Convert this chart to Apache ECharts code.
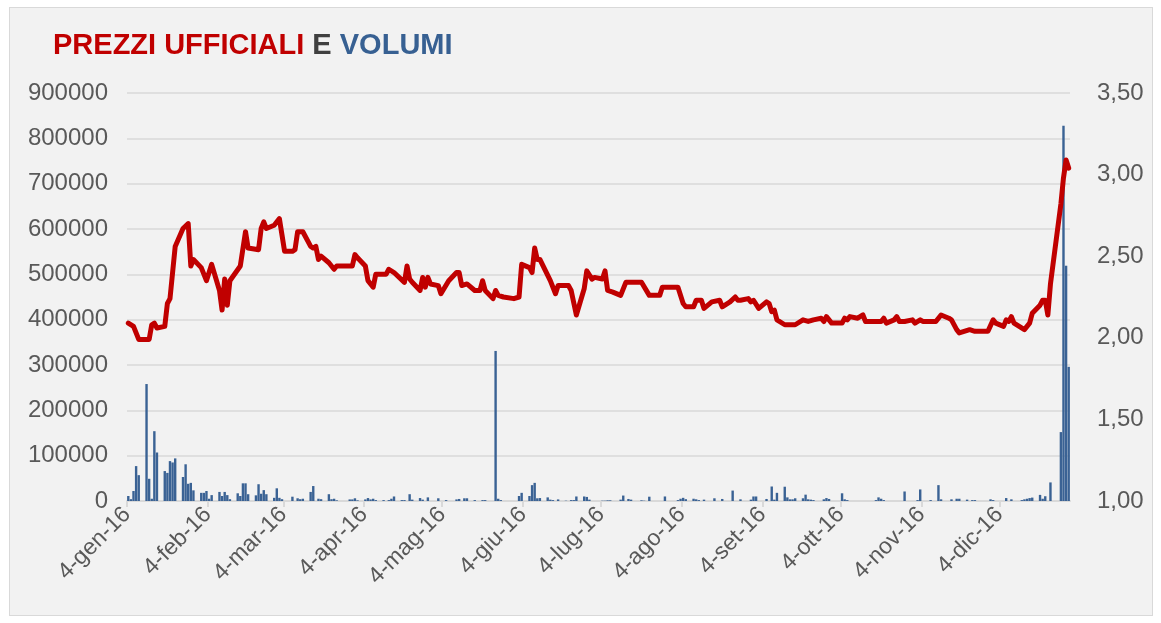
<!DOCTYPE html>
<html>
<head>
<meta charset="utf-8">
<script src="https://cdn.jsdelivr.net/npm/echarts@6.0.0/dist/echarts.min.js"></script>
<style>
  html, body { margin: 0; padding: 0; background: #ffffff; }
  #panel { position: absolute; left: 9px; top: 7px; width: 1142px; height: 607px; background: #f2f2f2; border: 1px solid #d9d9d9; }
  #chart { position: absolute; left: 0; top: 0; width: 1161px; height: 623px; }
</style>
</head>
<body>
<div id="panel"></div>
<div id="chart"></div>
<script>
// prezzi ufficiali (asse destro), date MM-GG 2016
var priceDates = [
  "01-04","01-06","01-08","01-12","01-13","01-14","01-15","01-18","01-19","01-20","01-22","01-25","01-27","01-28","01-29",
  "02-01","02-03","02-05","02-08","02-09","02-10","02-11","02-12","02-16","02-18","02-19","02-23","02-24","02-25","02-26","02-29",
  "03-02","03-03","03-04","03-07","03-08","03-09","03-11","03-14","03-15","03-16","03-17","03-18","03-21","03-23","03-24","03-30","03-31",
  "04-01","04-04","04-05","04-07","04-08","04-12","04-13","04-15","04-19","04-20","04-21","04-22","04-25","04-26","04-27","04-28","04-29",
  "05-02","05-03","05-06","05-09","05-10","05-11","05-13","05-16","05-18","05-19","05-20","05-23","05-24","05-25","05-27","05-31",
  "06-02","06-03","06-06","06-07","06-08","06-09","06-10","06-14","06-16","06-17","06-21","06-22","06-24","06-27","06-28","06-30",
  "07-01","07-04","07-05","07-06","07-08","07-11","07-13","07-19","07-22","07-26","07-27",
  "08-02","08-04","08-05","08-08","08-09","08-11","08-12","08-15","08-18","08-19","08-22","08-24","08-25","08-26","08-29","08-30","08-31",
  "09-02","09-05","09-06","09-07","09-08","09-09","09-12","09-16","09-19","09-21","09-23","09-26","09-27","09-28","09-30",
  "10-04","10-05","10-06","10-07","10-10","10-12","10-13","10-19","10-20","10-21","10-24","10-25","10-26","10-28","10-31",
  "11-01","11-03","11-04","11-09","11-11","11-14","11-15","11-17","11-18","11-22","11-24","11-29",
  "12-01","12-02","12-05","12-06","12-07","12-08","12-09","12-13","12-15","12-16","12-19","12-20","12-21","12-22","12-23","12-27","12-28","12-29","12-30"
];
var prices = [
  2.09,2.07,1.99,1.99,2.08,2.09,2.06,2.07,2.21,2.24,2.56,2.67,2.70,2.44,2.48,
  2.43,2.35,2.45,2.29,2.17,2.36,2.20,2.35,2.44,2.65,2.55,2.54,2.67,2.71,2.67,2.69,
  2.73,2.63,2.53,2.53,2.54,2.65,2.65,2.56,2.55,2.56,2.48,2.50,2.46,2.42,2.44,2.44,2.51,
  2.49,2.44,2.35,2.31,2.39,2.39,2.42,2.40,2.34,2.44,2.36,2.34,2.29,2.37,2.31,2.37,2.33,
  2.32,2.27,2.35,2.40,2.40,2.32,2.33,2.29,2.29,2.35,2.29,2.24,2.29,2.26,2.25,2.24,
  2.25,2.45,2.43,2.40,2.55,2.48,2.48,2.35,2.27,2.32,2.32,2.29,2.14,2.30,2.41,2.36,
  2.37,2.36,2.41,2.29,2.28,2.26,2.34,2.34,2.26,2.26,2.31,
  2.31,2.21,2.19,2.19,2.23,2.23,2.18,2.22,2.23,2.19,2.22,2.25,2.23,2.23,2.24,2.22,2.23,
  2.18,2.22,2.21,2.16,2.17,2.11,2.08,2.08,2.11,2.10,2.11,2.12,2.10,2.13,2.09,
  2.09,2.12,2.11,2.13,2.12,2.14,2.10,2.10,2.12,2.09,2.11,2.13,2.10,2.10,2.11,
  2.09,2.11,2.10,2.10,2.14,2.12,2.11,2.05,2.03,2.05,2.04,2.04,
  2.11,2.09,2.07,2.11,2.10,2.13,2.09,2.05,2.09,2.15,2.20,2.23,2.23,2.14,2.33,2.82,2.98,3.09,3.04
];

// volumi (asse sinistro)
var volDates = [
  "01-04","01-05","01-06","01-07","01-08","01-11","01-12","01-13","01-14","01-15","01-18","01-19","01-20","01-21","01-22","01-25","01-26","01-27","01-28","01-29",
  "02-01","02-02","02-03","02-04","02-05","02-08","02-09","02-10","02-11","02-12","02-15","02-16","02-17","02-18","02-19","02-22","02-23","02-24","02-25","02-26","02-29",
  "03-01","03-02","03-03","03-07","03-09","03-10","03-11","03-14","03-15","03-17","03-18","03-21","03-22","03-23","03-24","03-29","03-30","03-31",
  "04-01","04-04","04-05","04-06","04-07","04-08","04-11","04-13","04-14","04-15","04-18","04-19","04-21","04-22","04-25","04-26","04-28",
  "05-02","05-05","05-09","05-10","05-12","05-13","05-16","05-19","05-20","05-24","05-25","05-26",
  "06-02","06-03","06-06","06-07","06-08","06-09","06-10","06-13","06-14","06-15","06-17","06-20","06-22","06-23","06-24","06-27","06-28","06-29",
  "07-04","07-05","07-06","07-07","07-11","07-12","07-14","07-15","07-19","07-20","07-22","07-28",
  "08-02","08-03","08-04","08-05","08-08","08-09","08-10","08-12","08-16","08-19","08-23","08-26","08-30","08-31",
  "09-01","09-05","09-07","09-08","09-09","09-12","09-13","09-14","09-15","09-16","09-19","09-20","09-21","09-22","09-23","09-27","09-28","09-29",
  "10-04","10-05","10-06","10-17","10-18","10-19","10-20","10-28",
  "11-02","11-03","11-07","11-10","11-11","11-15","11-17","11-18","11-21","11-23","11-24","11-30",
  "12-01","12-06","12-08","12-12","12-13","12-14","12-15","12-16","12-19","12-20","12-21","12-23","12-27","12-28","12-29","12-30"
];
var volumes = [
  11000,4000,22000,77000,57000,258000,49000,5000,154000,107000,66000,62000,88000,85000,94000,53000,81000,38000,40000,23500,
  18000,18000,22000,5000,13000,20000,11000,20000,13000,4000,17000,11000,39000,39000,15000,12500,37000,16000,24000,15000,7000,
  28000,7000,4000,9500,6000,4000,5000,20000,33000,5000,4000,15000,4000,5000,1500,3500,3500,6000,
  1500,3500,6500,3500,5000,2000,2000,2000,5000,10000,2000,2000,15000,3000,6500,3000,8000,
  6000,2000,3500,4500,6000,6000,2000,2000,2000,331000,5000,2000,
  11000,18000,11000,35000,40000,6000,6500,8000,3000,2000,3500,700,2000,2000,10000,10000,9000,3000,
  700,700,1500,1500,3000,12000,4500,3000,1500,700,9500,10000,
  2000,5000,7000,4000,5000,3700,2000,3000,6000,4500,23000,3700,3000,10000,
  10000,4500,32000,3000,18000,31500,8000,3700,3700,6000,6000,14000,3700,3000,2000,3700,6500,4500,
  17000,3700,2000,2000,8000,5000,2000,21000,
  2000,25500,2000,35000,3700,3700,5000,5000,3000,2000,2000,3700,
  2000,6500,3700,2000,3700,5000,6500,7500,13500,5000,10500,41000,152000,828000,519000,296000
];

var tickDates = ["01-04","02-04","03-04","04-04","05-04","06-04","07-04","08-04","09-04","10-04","11-04","12-04"];
var monthNames = ["gen","feb","mar","apr","mag","giu","lug","ago","set","ott","nov","dic"];

var base = Date.UTC(2016, 0, 4);
function dayOf(md) {
  var p = md.split("-");
  return (Date.UTC(2016, +p[0] - 1, +p[1]) - base) / 86400000;
}
function dayLabel(n) {
  var d = new Date(base + Math.round(n) * 86400000);
  return d.getUTCDate() + "-" + monthNames[d.getUTCMonth()] + "-" + String(d.getUTCFullYear()).slice(2);
}

var priceData = priceDates.map(function (d, i) { return [dayOf(d) + 0.5, prices[i]]; });
var volData = volDates.map(function (d, i) { return [dayOf(d) + 0.5, volumes[i]]; });
var tickDays = tickDates.map(dayOf);

var font = "Liberation Sans, Arial, sans-serif";
var chart = echarts.init(document.getElementById("chart"), null, { renderer: "canvas" });

var option = {
  animation: false,
  backgroundColor: "transparent",
  title: {
    text: "{r|PREZZI UFFICIALI} {g|E} {b|VOLUMI}",
    left: 48,
    top: 26,
    textStyle: {
      fontSize: 29,
      fontWeight: "bold",
      fontFamily: font,
      color: "#404040",
      rich: {
        r: { color: "#c00000", fontSize: 29, fontWeight: "bold", fontFamily: font },
        g: { color: "#404040", fontSize: 29, fontWeight: "bold", fontFamily: font },
        b: { color: "#376092", fontSize: 29, fontWeight: "bold", fontFamily: font }
      }
    }
  },
  grid: {
    left: 127,
    right: 91,
    top: 93,
    bottom: 122,
    containLabel: false,
    outerBoundsMode: "none"
  },
  xAxis: {
    type: "value",
    min: 0,
    max: dayOf("12-31"),
    splitLine: { show: false },
    axisLine: { show: true, lineStyle: { color: "#d9d9d9", width: 2 } },
    axisTick: {
      show: true,
      customValues: tickDays,
      length: 6,
      lineStyle: { color: "#d9d9d9", width: 2 }
    },
    axisLabel: {
      customValues: tickDays,
      rotate: 45,
      margin: 10,
      color: "#595959",
      fontSize: 23,
      fontFamily: font,
      formatter: function (v) { return dayLabel(v); }
    }
  },
  yAxis: [
    {
      type: "value",
      min: 0,
      max: 900000,
      interval: 100000,
      axisLine: { show: false },
      axisTick: { show: false },
      splitLine: { show: true, lineStyle: { color: "#d9d9d9", width: 1.5 } },
      axisLabel: {
        margin: 19,
        color: "#595959",
        fontSize: 24,
        fontFamily: font,
        formatter: function (v) { return String(v); }
      }
    },
    {
      type: "value",
      min: 1,
      max: 3.5,
      interval: 0.5,
      axisLine: { show: false },
      axisTick: { show: false },
      splitLine: { show: false },
      axisLabel: {
        margin: 27,
        color: "#595959",
        fontSize: 24,
        fontFamily: font,
        formatter: function (v) { return v.toFixed(2).replace(".", ","); }
      }
    }
  ],
  series: [
    {
      name: "Volumi",
      type: "bar",
      yAxisIndex: 0,
      barWidth: 2.4,
      itemStyle: { color: "#3a6294" },
      data: volData
    },
    {
      name: "Prezzi ufficiali",
      type: "line",
      yAxisIndex: 1,
      showSymbol: false,
      symbol: "none",
      smooth: false,
      lineStyle: { color: "#c00000", width: 5, join: "round", cap: "round" },
      data: priceData
    }
  ]
};
chart.setOption(option);
</script>
</body>
</html>
